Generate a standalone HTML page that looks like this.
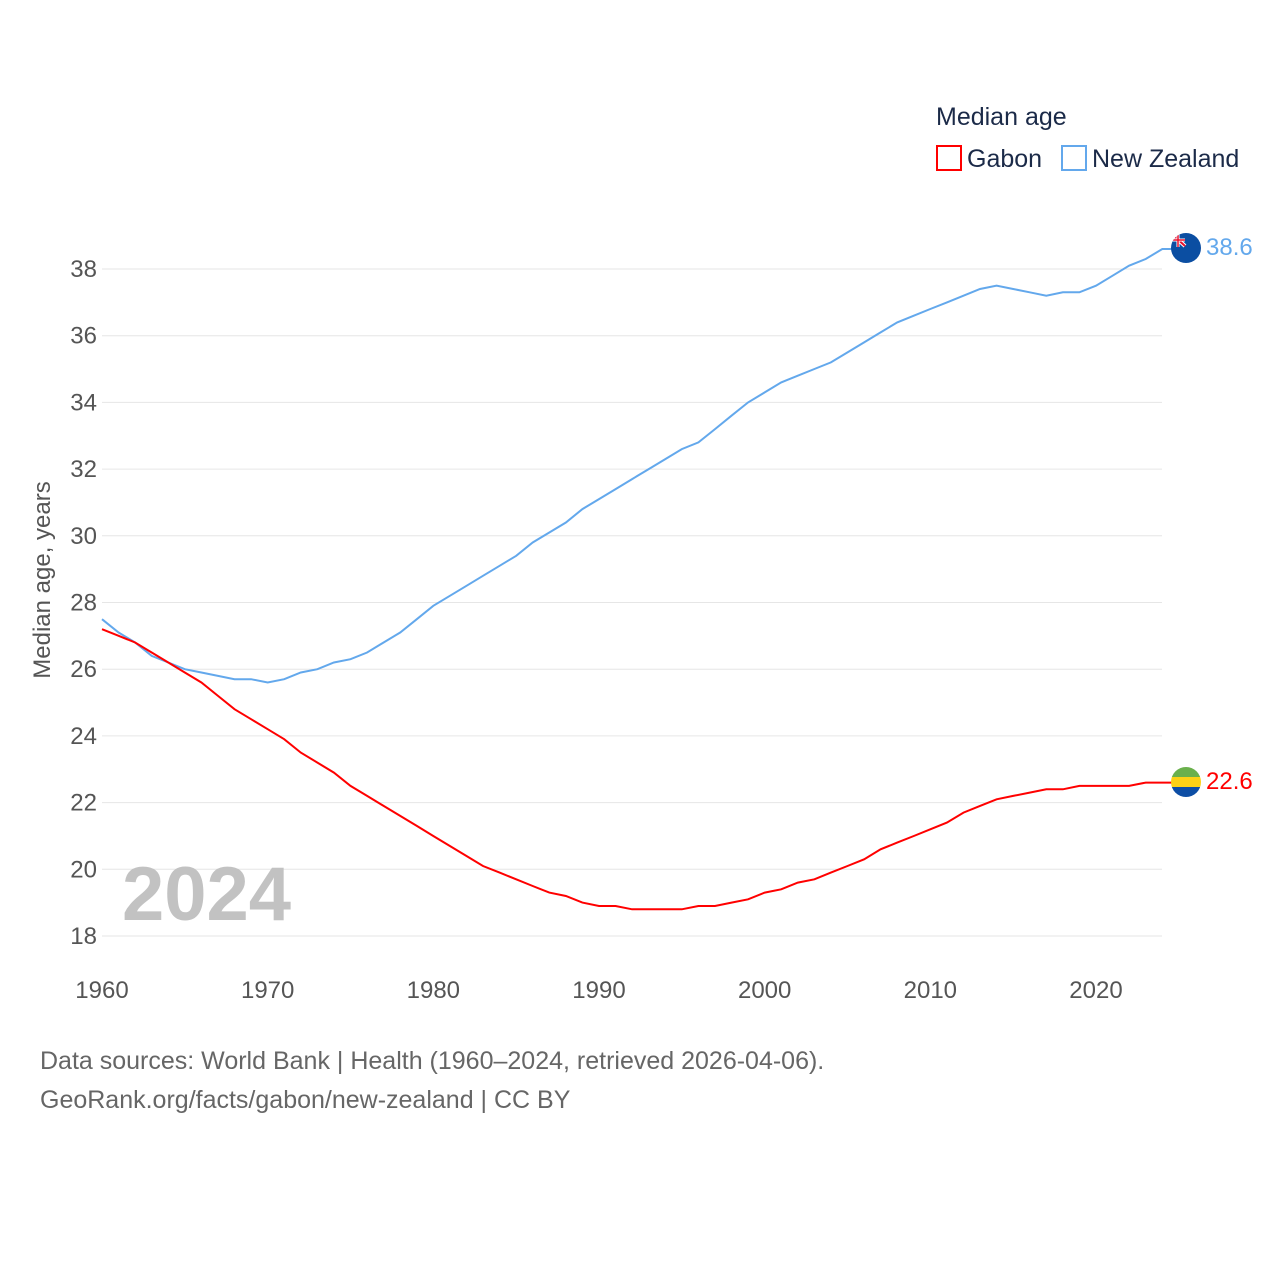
<!DOCTYPE html>
<html><head><meta charset="utf-8"><style>
body{margin:0;background:#fff;font-family:"Liberation Sans",sans-serif}
svg text{font-family:"Liberation Sans",sans-serif}
</style></head><body>
<svg width="1280" height="1280" viewBox="0 0 1280 1280" id="chart">
<g id="grid"></g>
<g id="ticks"></g>
<text x="50" y="580" transform="rotate(-90 50 580)" text-anchor="middle" font-size="24" fill="#555">Median age, years</text>
<text x="122" y="920" font-size="76" font-weight="bold" fill="#c2c2c2">2024</text>
<g id="lines"></g>
<text x="936" y="125" font-size="25" fill="#1b2a48">Median age</text>
<g><rect x="937" y="146" width="24" height="24" fill="none" stroke="#f00" stroke-width="2"/><text x="967" y="167" font-size="25" fill="#1b2a48">Gabon</text></g>
<g><rect x="1062" y="146" width="24" height="24" fill="none" stroke="#63a8ec" stroke-width="2"/><text x="1092" y="167" font-size="25" fill="#1b2a48">New Zealand</text></g>
<g><clipPath id="nc"><circle cx="1186" cy="248" r="15"/></clipPath><g clip-path="url(#nc)"><rect x="1170" y="232" width="32" height="32" fill="#0b4ea2"/><path d="M1171,233 l14,13" stroke="#fff" stroke-width="4"/><path d="M1171,233 l14,13" stroke="#e8112d" stroke-width="2"/><path d="M1178,233 v14 M1171,240 h14" stroke="#fff" stroke-width="3"/><path d="M1178,233 v14 M1171,240 h14" stroke="#e8112d" stroke-width="1.5"/></g></g>
<g><clipPath id="gc"><circle cx="1186" cy="782" r="15"/></clipPath><g clip-path="url(#gc)"><rect x="1170" y="766" width="32" height="11" fill="#6ab04c"/><rect x="1170" y="777" width="32" height="10" fill="#fcd116"/><rect x="1170" y="787" width="32" height="12" fill="#0d4ea5"/></g></g>
<text x="1206" y="255" font-size="24" fill="#63a8ec">38.6</text>
<text x="1206" y="789" font-size="24" fill="#f00">22.6</text>
<text x="40" y="1069" font-size="25" fill="#666">Data sources: World Bank | Health (1960–2024, retrieved 2026-04-06).</text>
<text x="40" y="1108" font-size="25" fill="#666">GeoRank.org/facts/gabon/new-zealand | CC BY</text>
</svg>
<script>
const years=[];for(let y=1960;y<=2024;y++)years.push(y);
const nzValues=[27.5,27.1,26.8,26.4,26.2,26.0,25.9,25.8,25.7,25.7,25.6,25.7,25.9,26.0,26.2,26.3,26.5,26.8,27.1,27.5,27.9,28.2,28.5,28.8,29.1,29.4,29.8,30.1,30.4,30.8,31.1,31.4,31.7,32.0,32.3,32.6,32.8,33.2,33.6,34.0,34.3,34.6,34.8,35.0,35.2,35.5,35.8,36.1,36.4,36.6,36.8,37.0,37.2,37.4,37.5,37.4,37.3,37.2,37.3,37.3,37.5,37.8,38.1,38.3,38.6];
const gabonValues=[27.2,27.0,26.8,26.5,26.2,25.9,25.6,25.2,24.8,24.5,24.2,23.9,23.5,23.2,22.9,22.5,22.2,21.9,21.6,21.3,21.0,20.7,20.4,20.1,19.9,19.7,19.5,19.3,19.2,19.0,18.9,18.9,18.8,18.8,18.8,18.8,18.9,18.9,19.0,19.1,19.3,19.4,19.6,19.7,19.9,20.1,20.3,20.6,20.8,21.0,21.2,21.4,21.7,21.9,22.1,22.2,22.3,22.4,22.4,22.5,22.5,22.5,22.5,22.6,22.6];
const yTicks=[18,20,22,24,26,28,30,32,34,36,38];
const xTicks=[1960,1970,1980,1990,2000,2010,2020];
const xs=v=>102+(v-1960)*(994/60);
const ys=v=>936-(v-18)*(667/20);
const NS='http://www.w3.org/2000/svg';
const grid=document.getElementById('grid'),ticks=document.getElementById('ticks'),lines=document.getElementById('lines');
yTicks.forEach(t=>{
 const l=document.createElementNS(NS,'line');
 
 
 l.setAttribute('x1',102);l.setAttribute('x2',1162);l.setAttribute('y1',ys(t));l.setAttribute('y2',ys(t));
 l.setAttribute('stroke','#e6e6e6');grid.appendChild(l);
 const tx=document.createElementNS(NS,'text');
 
 
 tx.setAttribute('x',97);tx.setAttribute('y',ys(t)+8);tx.setAttribute('text-anchor','end');
 tx.setAttribute('font-size','24');tx.setAttribute('fill','#555');tx.textContent=t;ticks.appendChild(tx);
});
xTicks.forEach(t=>{
 const tx=document.createElementNS(NS,'text');
 
 
 tx.setAttribute('x',xs(t));tx.setAttribute('y',998);tx.setAttribute('text-anchor','middle');
 tx.setAttribute('font-size','24');tx.setAttribute('fill','#555');tx.textContent=t;ticks.appendChild(tx);
});
function draw(vals,color,name){
 const p=document.createElementNS(NS,'path');
 
 
 let d=vals.map((v,i)=>(i?'L':'M')+xs(years[i]).toFixed(1)+','+ys(v).toFixed(1)).join(' ');
 d+=' L'+(xs(years[years.length-1])+10)+','+ys(vals[vals.length-1]).toFixed(1);
 p.setAttribute('d',d);p.setAttribute('fill','none');p.setAttribute('stroke',color);p.setAttribute('stroke-width','2');
 lines.appendChild(p);
}
draw(nzValues,'#63a8ec','line-new-zealand');
draw(gabonValues,'#f00','line-gabon');
</script>
</body></html>
